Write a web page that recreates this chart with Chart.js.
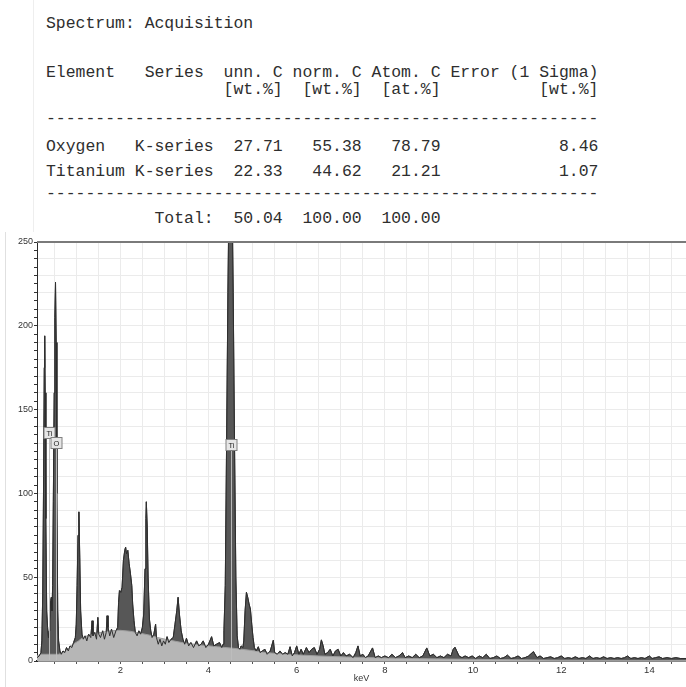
<!DOCTYPE html>
<html><head><meta charset="utf-8">
<script src="https://cdn.jsdelivr.net/npm/chart.js@4.4.1/dist/chart.umd.min.js"></script>
<style>
html,body{margin:0;padding:0;background:#fff;}
body{width:686px;height:687px;position:relative;overflow:hidden;}
.ln{position:absolute;left:46px;font-family:"Liberation Mono",monospace;font-size:16.45px;color:#2e2e2e;white-space:pre;line-height:16.45px;}
#wrap{position:absolute;left:0;top:232px;width:686px;height:455px;}
.frame{position:absolute;width:1px;}
</style></head>
<body>
<div class="frame" style="left:33px;top:0;height:232px;background:#eeeeee"></div>
<div class="frame" style="left:5px;top:232px;height:455px;background:#e0e0e0"></div>
<div id="tbl"></div>
<div id="wrap"><canvas id="c" width="686" height="455"></canvas></div>
<script>
// ---- table text ----
const tableLines = [
  "Spectrum: Acquisition",
  "Element   Series  unn. C norm. C Atom. C Error (1 Sigma)",
  "                  [wt.%]  [wt.%]  [at.%]          [wt.%]",
  "--------------------------------------------------------",
  "Oxygen   K-series  27.71   55.38   78.79            8.46",
  "Titanium K-series  22.33   44.62   21.21            1.07",
  "--------------------------------------------------------",
  "           Total:  50.04  100.00  100.00"
];
const tableLineTops = [15.5, 65, 81.5, 110.5, 139, 163.5, 185.5, 210.5];

// ---- spectrum data (keV, counts) ----
const specKeV = [0.11,0.16,0.20,0.22,0.24,0.26,0.275,0.285,0.295,0.31,0.33,0.35,0.37,0.385,0.40,0.42,0.435,0.45,0.465,0.48,0.50,0.515,0.53,0.545,0.56,0.58,0.60,0.63,0.66,0.70,0.74,0.78,0.82,0.86,0.90,0.94,0.98,1.00,1.02,1.04,1.06,1.08,1.10,1.13,1.16,1.20,1.24,1.28,1.33,1.36,1.38,1.42,1.46,1.49,1.51,1.55,1.60,1.64,1.68,1.70,1.72,1.76,1.80,1.85,1.90,1.94,1.96,1.98,2.01,2.04,2.07,2.10,2.12,2.14,2.17,2.20,2.23,2.26,2.28,2.31,2.34,2.38,2.42,2.46,2.50,2.53,2.56,2.58,2.59,2.61,2.63,2.66,2.69,2.72,2.76,2.80,2.82,2.86,2.90,2.94,2.98,3.02,3.06,3.10,3.15,3.20,3.24,3.28,3.31,3.34,3.38,3.42,3.46,3.50,3.55,3.60,3.66,3.73,3.78,3.83,3.88,3.94,4.00,4.07,4.12,4.18,4.25,4.30,4.33,4.35,4.38,4.41,4.44,4.47,4.50,4.53,4.56,4.59,4.62,4.65,4.68,4.71,4.74,4.78,4.80,4.83,4.86,4.89,4.92,4.95,4.98,5.01,5.04,5.08,5.13,5.17,5.22,5.28,5.33,5.40,5.47,5.50,5.56,5.62,5.68,5.74,5.80,5.85,5.90,5.95,6.00,6.05,6.10,6.15,6.22,6.28,6.34,6.40,6.46,6.52,6.56,6.60,6.64,6.70,6.76,6.82,6.88,6.94,7.00,7.06,7.12,7.20,7.28,7.34,7.39,7.44,7.50,7.56,7.62,7.72,7.78,7.85,7.92,8.00,8.08,8.16,8.24,8.32,8.40,8.46,8.54,8.62,8.70,8.78,8.86,8.95,9.02,9.10,9.18,9.26,9.34,9.42,9.50,9.55,9.59,9.63,9.68,9.75,9.82,9.90,9.98,10.06,10.14,10.22,10.30,10.38,10.46,10.54,10.62,10.70,10.78,10.86,10.94,11.02,11.10,11.18,11.26,11.37,11.45,11.52,11.60,11.68,11.76,11.84,11.92,12.00,12.08,12.16,12.24,12.32,12.40,12.48,12.56,12.64,12.72,12.80,12.88,12.96,13.04,13.12,13.20,13.28,13.36,13.44,13.50,13.58,13.66,13.74,13.82,13.90,14.00,14.06,14.14,14.22,14.30,14.40,14.50,14.60,14.70,14.83];
const specCounts = [2,3,5,12,40,110,175,194,160,85,30,20,14,18,24,36,38,30,45,95,160,205,226,190,100,30,12,6,4,6,5,8,6,9,8,11,14,22,45,75,89,62,30,16,13,15,12,16,14,24,15,17,13,26,16,14,18,13,17,27,20,15,19,14,18,20,35,42,41,44,60,66,68,64,66,58,52,45,34,24,17,15,18,16,20,28,55,85,95,80,50,25,18,14,16,22,14,10,13,9,12,10,14.5,11,13,14,22,30,38,28,18,13,10,13.6,9,11,8,12,9,10,12,8,10,14.5,9,10,11,8,10,18,45,130,220,290,310,290,220,130,50,15,8,7,9,8,12,30,41,38,34,31,22,14,8,6,8.5,5,6,7,4,6,12.4,5,4,6,4,5,4,8.5,3,5,9,4,7,4,8,5,7,8,4,7,12.6,9,4,5,7,3,6,7,3,5,3,4,2,5,9,3,4,2,3,7.8,2,3,2,3,2,4,2,3,5,2,3,2,4,2,3,7.8,3,4,2,3,2,4,3,7,8.2,6,3,2,3,2,3,1.5,3,2,4,1.5,2,3,1.5,2,3.5,1.5,2,3,1.5,2,3,5.6,2,3,1.5,2,2.5,1.5,2,3,1.5,2,1.5,2.5,1.5,2,1.5,3,1.5,2,1.5,2.5,1.5,2,1.5,2,1.5,2,3,1.5,2,1.5,2,1.5,3,1.5,2,2.5,1.5,2,1.5,2,1.5,1.5];

// ---- continuum background (keV, counts) ----
const bgKeV = [0.11,0.20,0.30,0.45,0.60,0.70,0.80,0.93,1.05,1.15,1.30,1.46,1.65,1.83,2.00,2.21,2.45,2.67,2.85,3.05,3.40,3.80,4.20,4.56,5.00,5.30,5.70,6.07,6.50,7.00,7.50,8.00,9.00,10.00,11.00,12.00,13.00,14.00,14.83];
const bgCounts = [3,4,4,4,4,5,7,10,12,14,15.5,16.6,17.5,18.1,18.3,17.8,16.6,15.4,14,12.8,11,9.6,8.5,7.6,6.2,5,4.2,3.6,3,2.5,2.1,1.8,1.3,1,0.7,0.5,0.4,0.3,0.3];

// ---- element markers ----
const markerLabels = ["Ti","O","Ti"];
const markerKeV = [0.39,0.55,4.50];
const markerCounts = [136,130,129];

// ---- axes ----
const xTickLabels = [2,4,6,8,10,12,14];
const yTickLabels = [0,50,100,150,200,250];
const xRange = [0.11, 14.83];
const xGridStep = 0.5, yGridStep = 10, yMinorStep = 5;

// table
const tbl = document.getElementById('tbl');
tableLines.forEach((t,i)=>{
  const d = document.createElement('div');
  d.className='ln'; d.style.top = tableLineTops[i]+'px'; d.textContent = t;
  tbl.appendChild(d);
});

const spec = specKeV.map((x,i)=>({x, y: specCounts[i]}));
const bg = bgKeV.map((x,i)=>({x, y: bgCounts[i]}));

const markerPlugin = {
  id:'markers',
  afterDatasetsDraw(chart){
    const {ctx, chartArea:a, scales:{x,y}} = chart;
    ctx.save();
    markerKeV.forEach((k,i)=>{
      const px = Math.round(x.getPixelForValue(k))+0.5;
      const py = Math.round(y.getPixelForValue(markerCounts[i]));
      ctx.strokeStyle='rgba(190,190,190,0.95)'; ctx.lineWidth=1;
      ctx.beginPath(); ctx.moveTo(px, py+6); ctx.lineTo(px, a.bottom-1); ctx.stroke();
      ctx.font='7.5px "Liberation Sans"';
      const w = Math.round(ctx.measureText(markerLabels[i]).width) + 5;
      ctx.fillStyle='#e6e6e6'; ctx.fillRect(px-w/2, py-5.5, w, 11);
      ctx.strokeStyle='#808080'; ctx.strokeRect(px-w/2, py-5.5, w, 11);
      ctx.fillStyle='#222'; ctx.textAlign='center'; ctx.textBaseline='middle';
      ctx.fillText(markerLabels[i], px, py+0.5);
    });
    ctx.restore();
  },
  afterDraw(chart){
    const {ctx, chartArea:a} = chart;
    ctx.save();
    ctx.strokeStyle='#7a7a7a'; ctx.lineWidth=2;
    ctx.beginPath(); ctx.moveTo(a.left, a.top); ctx.lineTo(a.right, a.top); ctx.stroke();
    ctx.restore();
  }
};

new Chart(document.getElementById('c'), {
  type:'line',
  data:{datasets:[
    {label:'spectrum outline', data:spec, order:0, borderColor:'#2e2e2e', borderWidth:1, fill:false, pointRadius:0, tension:0},
    {label:'background', data:bg, order:1, borderColor:'#9c9c9c', borderWidth:1, backgroundColor:'#b6b6b6', fill:'origin', pointRadius:0, tension:0},
    {label:'spectrum', data:spec, order:2, borderColor:'#3a3a3a', borderWidth:1, backgroundColor:'#575757', fill:'origin', pointRadius:0, tension:0}
  ]},
  options:{
    responsive:false, devicePixelRatio:1, animation:false,
    layout:{padding:{left:0,right:0,top:10,bottom:0}},
    plugins:{legend:{display:false}, tooltip:{enabled:false}},
    scales:{
      x:{type:'linear', min:xRange[0], max:xRange[1],
        afterBuildTicks: s => { const t=[]; for(let v=xGridStep; v<s.max; v+=xGridStep) t.push({value:+v.toFixed(2)}); s.ticks=t; },
        afterFit: s => { s.height = 26; },
        ticks:{autoSkip:false, maxRotation:0, padding:1, color:'#333', font:{family:'Liberation Sans', size:9.5},
          callback: v => xTickLabels.includes(v) ? String(v) : ''},
        grid:{color:'#ebebeb', tickColor:'#555', tickLength:3},
        border:{color:'#2a2a2a', width:1.5},
        title:{display:true, text:'keV', color:'#333', font:{family:'Liberation Sans', size:9}, padding:{top:0,bottom:3}}
      },
      y:{type:'linear', min:yTickLabels[0], max:yTickLabels[yTickLabels.length-1],
        afterBuildTicks: s => { const t=[]; for(let v=s.min; v<=s.max; v+=yMinorStep) t.push({value:v}); s.ticks=t; },
        afterFit: s => { s.width = 37; },
        ticks:{autoSkip:false, padding:1, color:'#333', font:{family:'Liberation Sans', size:9},
          callback: v => yTickLabels.includes(v) ? String(v) : ''},
        grid:{color: c => (c.tick && c.tick.value % yGridStep === 0) ? '#ebebeb' : 'rgba(0,0,0,0)', tickColor:'#333', tickLength:3},
        border:{color:'#2a2a2a', width:1}
      }
    }
  },
  plugins:[markerPlugin]
});
</script>
</body></html>
